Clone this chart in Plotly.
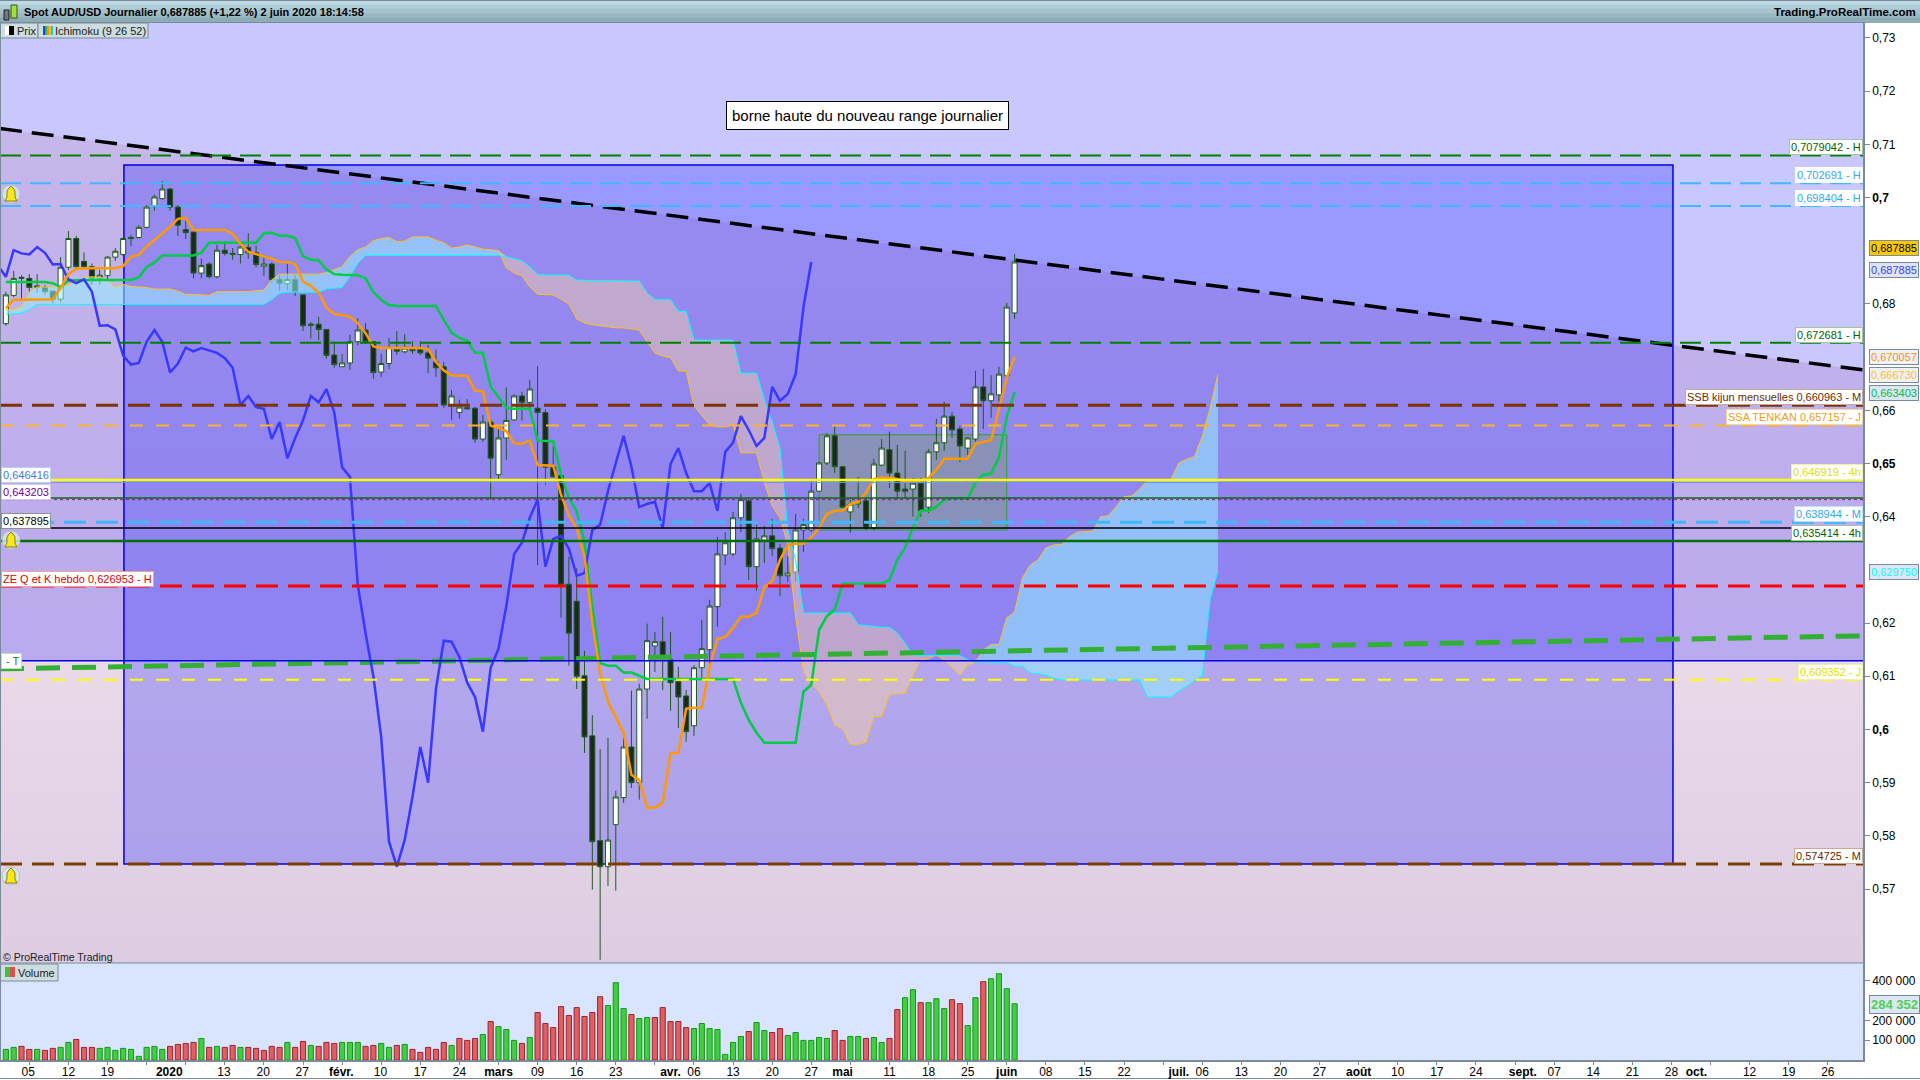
import plotly.graph_objects as go

# daily candles
open_p = [.6763,.6816,.6850,.6848,.6831,.6831,.6824,.6809,.6869,.6923,
 .6880,.6870,.6848,.6853,.6888,.6893,.6925,.6925,.6944,.6983,
 .6998,.7016,.6982,.6940,.6935,.6858,.6875,.6851,.6901,.6895,
 .6893,.6906,.6896,.6871,.6875,.6846,.6838,.6846,.6817,.6762,
 .6762,.6752,.6704,.6682,.6689,.6729,.6751,.6729,.6672,.6688,
 .6715,.6710,.6715,.6714,.6708,.6691,.6682,.6608,.6596,.6605,
 .6604,.6546,.6578,.6479,.6548,.6582,.6627,.6615,.6604,.6596,
 .6493,.6477,.6273,.6241,.6101,.5988,.5791,.5742,.5821,.5872,
 .5967,.5900,.6076,.6157,.6165,.6131,.6090,.6063,.6007,.6116,
 .6150,.6231,.6328,.6330,.6398,.6430,.6306,.6356,.6364,.6341,
 .6289,.6296,.6375,.6375,.6448,.6501,.6552,.6494,.6409,.6424,
 .6430,.6379,.6497,.6526,.6482,.6452,.6452,.6463,.6418,.6522,
 .6539,.6589,.6565,.6529,.6546,.6644,.6618,.6629,.6665,.6783]
close_p = [.6817,.6848,.6848,.6831,.6834,.6823,.6809,.6869,.6923,.6870,
 .6870,.6848,.6854,.6888,.6899,.6923,.6923,.6944,.6982,.7001,
 .7016,.6982,.6948,.6934,.6858,.6872,.6851,.6901,.6895,.6893,
 .6907,.6896,.6874,.6875,.6846,.6839,.6846,.6823,.6759,.6760,
 .6752,.6703,.6686,.6689,.6729,.6751,.6729,.6671,.6688,.6718,
 .6711,.6717,.6712,.6708,.6698,.6680,.6610,.6627,.6606,.6603,
 .6546,.6578,.6510,.6548,.6581,.6627,.6615,.6640,.6596,.6493,
 .6475,.6272,.6181,.6100,.5986,.5789,.5742,.5792,.5873,.5967,
 .5900,.6076,.6167,.6165,.6136,.6088,.6061,.5996,.6116,.6152,
 .6232,.6330,.6351,.6398,.6432,.6306,.6358,.6364,.6340,.6289,
 .6294,.6375,.6385,.6448,.6501,.6552,.6494,.6418,.6424,.6428,
 .6379,.6499,.6529,.6482,.6448,.6448,.6463,.6411,.6522,.6539,
 .6589,.6563,.6533,.6548,.6644,.6618,.6631,.6668,.6794,.687885]
high_p = [.6823,.6862,.6854,.6856,.6856,.6836,.6825,.6888,.6937,.6928,
 .6897,.6876,.6864,.6890,.6905,.6925,.6930,.6948,.6986,.7005,
 .7031,.7018,.6986,.6956,.6936,.6885,.6878,.6911,.6918,.6905,
 .6909,.6933,.6910,.6888,.6878,.6854,.6875,.6854,.6818,.6766,
 .6776,.6752,.6729,.6706,.6742,.6773,.6764,.6730,.6706,.6736,
 .6749,.6743,.6730,.6730,.6723,.6714,.6691,.6638,.6620,.6621,
 .6606,.6591,.6583,.6565,.6643,.6630,.6635,.6657,.6683,.6602,
 .6533,.6477,.6325,.6303,.6148,.6027,.5963,.5984,.5885,.5994,
 .6073,.6086,.6199,.6183,.6212,.6183,.6118,.6074,.6121,.6206,
 .6244,.6362,.6371,.6409,.6443,.6434,.6385,.6383,.6396,.6349,
 .6326,.6405,.6396,.6471,.6503,.6557,.6569,.6494,.6432,.6475,
 .6434,.6509,.6546,.6560,.6535,.6524,.6473,.6473,.6527,.6584,
 .6616,.6597,.6571,.6550,.6674,.6678,.6666,.6682,.6802,.6894]
low_p = [.6759,.6813,.6809,.6821,.6821,.6817,.6801,.6803,.6864,.6866,
 .6865,.6836,.6836,.6844,.6881,.6890,.6909,.6923,.6942,.6975,
 .6996,.6975,.6928,.6922,.6848,.6848,.6848,.6848,.6891,.6883,
 .6876,.6885,.6869,.6853,.6840,.6825,.6826,.6815,.6749,.6735,
 .6732,.6697,.6680,.6682,.6676,.6722,.6725,.6659,.6663,.6678,
 .6704,.6707,.6706,.6704,.6670,.6663,.6605,.6582,.6584,.6602,
 .6539,.6541,.6432,.6469,.6507,.6581,.6581,.6600,.6309,.6460,
 .6475,.6210,.6120,.6076,.5956,.5699,.5567,.5706,.5697,.5862,
 .5890,.5868,.6020,.6108,.6074,.6035,.6003,.5977,.5988,.6097,
 .6118,.6193,.6309,.6326,.6371,.6281,.6261,.6313,.6326,.6251,
 .6277,.6279,.6334,.6371,.6447,.6497,.6482,.6416,.6370,.6416,
 .6375,.6375,.6495,.6454,.6432,.6435,.6400,.6400,.6407,.6507,
 .6524,.6548,.6503,.6516,.6541,.6565,.6586,.6616,.6663,.6772]

# ichimoku lines
tenkan = [.6792,.6808,.6808,.6808,.6808,.6808,.6809,.6830,.6856,.6866,
 .6867,.6867,.6867,.6867,.6867,.6871,.6889,.6892,.6908,.6920,
 .6933,.6945,.6960,.6962,.6939,.6939,.6939,.6939,.6939,.6932,
 .6913,.6898,.6894,.6889,.6885,.6879,.6879,.6875,.6842,.6834,
 .6821,.6793,.6781,.6779,.6776,.6764,.6745,.6720,.6717,.6717,
 .6717,.6717,.6717,.6717,.6715,.6691,.6675,.6666,.6665,.6665,
 .6637,.6636,.6571,.6567,.6561,.6538,.6537,.6543,.6497,.6497,
 .6496,.6441,.6403,.6378,.6325,.6200,.6106,.6052,.6022,.5994,
 .5915,.5905,.5853,.5853,.5862,.5956,.5956,.6039,.6041,.6041,
 .6118,.6170,.6174,.6191,.6212,.6212,.6219,.6268,.6279,.6319,
 .6347,.6349,.6349,.6361,.6379,.6405,.6411,.6411,.6424,.6428,
 .6445,.6471,.6473,.6473,.6471,.6466,.6466,.6468,.6473,.6488,
 .6509,.6509,.6509,.6509,.6537,.6541,.6544,.6601,.6661,.670057]
kijun = [.6841,.6841,.6841,.6841,.6841,.6841,.6839,.6832,.6844,.6845,
 .6845,.6845,.6845,.6845,.6845,.6845,.6845,.6850,.6869,.6878,
 .6891,.6891,.6891,.6891,.6891,.6896,.6915,.6915,.6915,.6915,
 .6915,.6915,.6915,.6933,.6934,.6928,.6928,.6924,.6890,.6883,
 .6882,.6865,.6856,.6855,.6854,.6854,.6848,.6822,.6808,.6798,
 .6796,.6796,.6796,.6796,.6796,.6796,.6770,.6746,.6736,.6731,
 .6708,.6708,.6645,.6624,.6605,.6603,.6603,.6603,.6543,.6542,
 .6542,.6479,.6435,.6410,.6353,.6229,.6125,.6120,.6120,.6107,
 .6107,.6101,.6095,.6095,.6095,.6095,.6095,.6095,.6095,.6095,
 .6095,.6095,.6095,.6095,.6050,.6018,.5994,.5975,.5975,.5975,
 .5975,.5975,.6071,.6084,.6187,.6213,.6225,.6274,.6274,.6274,
 .6274,.6274,.6274,.6281,.6319,.6342,.6379,.6411,.6411,.6419,
 .6432,.6434,.6434,.6434,.6464,.6479,.6481,.6511,.6588,.663403]
# lagging line starts one bar left of the first candle
chikou = [.6872,.6851,.6901,.6895,.6893,.6907,.6896,.6874,.6875,.6846,
 .6839,.6846,.6823,.6759,.6760,.6752,.6703,.6686,.6689,.6729,
 .6751,.6729,.6671,.6688,.6718,.6711,.6717,.6712,.6708,.6698,
 .6680,.6610,.6627,.6606,.6603,.6546,.6578,.6510,.6548,.6581,
 .6627,.6615,.6640,.6596,.6493,.6475,.6272,.6181,.6100,.5986,
 .5789,.5742,.5792,.5873,.5967,.5900,.6076,.6167,.6165,.6136,
 .6088,.6061,.5996,.6116,.6152,.6232,.6330,.6351,.6398,.6432,
 .6306,.6358,.6364,.6340,.6289,.6294,.6375,.6385,.6448,.6501,
 .6552,.6494,.6418,.6424,.6428,.6379,.6499,.6529,.6482,.6448,
 .6448,.6463,.6411,.6522,.6539,.6589,.6563,.6533,.6548,.6644,
 .6618,.6631,.6668,.6794,.687885]
ssa = [.6789,.6789,.6796,.6823,.6832,.6832,.6832,.6834,.6836,.6842,
 .6850,.6851,.6850,.6845,.6832,.6837,.6833,.6832,.6831,.6828,
 .6828,.6828,.6824,.6818,.6818,.6817,.6816,.6823,.6823,.6823,
 .6823,.6823,.6825,.6826,.6845,.6856,.6856,.6856,.6856,.6856,
 .6856,.6859,.6864,.6870,.6889,.6902,.6907,.6919,.6923,.6925,
 .6917,.6918,.6926,.6926,.6926,.6920,.6915,.6905,.6907,.6911,
 .6907,.6903,.6902,.6900,.6868,.6858,.6853,.6832,.6818,.6817,
 .6817,.6809,.6800,.6772,.6764,.6761,.6759,.6756,.6755,.6755,
 .6753,.6751,.6729,.6708,.6702,.6699,.6674,.6674,.6608,.6590,
 .6573,.6569,.6569,.6573,.6520,.6520,.6520,.6464,.6420,.6398,
 .6347,.6212,.6109,.6086,.6071,.6046,.6009,.6001,.5972,.5972,
 .5976,.6024,.6024,.6066,.6067,.6068,.6102,.6131,.6133,.6140,
 .6131,.6116,.6102,.6121,.6127,.6149,.6160,.6160,.6210,.6221,
 .6285,.6309,.6319,.6341,.6347,.6348,.6362,.6371,.6372,.6373,
 .6400,.6402,.6419,.6438,.6439,.6452,.6469,.6470,.6470,.6470,
 .6501,.6508,.6513,.6551,.6604,.66673]
ssb = [.6781,.6781,.6783,.6789,.6799,.6799,.6799,.6799,.6799,.6799,
 .6799,.6799,.6799,.6799,.6799,.6799,.6799,.6799,.6799,.6799,
 .6799,.6799,.6799,.6799,.6799,.6799,.6799,.6799,.6799,.6799,
 .6799,.6799,.6799,.6799,.6808,.6820,.6822,.6822,.6822,.6822,
 .6822,.6828,.6829,.6831,.6851,.6876,.6891,.6891,.6891,.6891,
 .6891,.6891,.6891,.6891,.6891,.6891,.6891,.6891,.6891,.6891,
 .6891,.6891,.6891,.6891,.6889,.6885,.6881,.6870,.6856,.6854,
 .6854,.6854,.6854,.6845,.6844,.6844,.6844,.6844,.6844,.6844,
 .6844,.6843,.6821,.6808,.6808,.6808,.6786,.6786,.6732,.6732,
 .6732,.6732,.6732,.6732,.6670,.6670,.6670,.6620,.6579,.6529,
 .6375,.6319,.6219,.6219,.6219,.6219,.6219,.6219,.6219,.6197,
 .6195,.6193,.6192,.6192,.6182,.6162,.6140,.6139,.6139,.6139,
 .6139,.6139,.6139,.6131,.6127,.6127,.6127,.6127,.6126,.6119,
 .6119,.6106,.6105,.6102,.6096,.6093,.6093,.6093,.6093,.6093,
 .6093,.6093,.6093,.6093,.6093,.6093,.6061,.6061,.6061,.6061,
 .6072,.6082,.6091,.6101,.6244,.62975]

# volume, and whether the bar is drawn green
volume = [53700,63700,68800,53700,53700,48600,58700,63700,88900,104000,
 63700,63700,58700,63700,48600,58700,53700,18400,63700,68800,
 53700,68800,78800,83900,88900,109000,63700,68800,63700,73800,
 63700,63700,58700,48600,68800,63700,88900,63700,93900,73800,
 68800,88900,83900,88900,88900,88900,68800,73800,83900,63700,
 73800,78800,53700,38600,63700,53700,88900,73800,109000,99000,
 109000,129000,194500,169000,154000,99000,83900,114000,240000,184500,
 164000,270000,225000,265000,220000,240000,320000,275000,391000,260000,
 230000,210000,215000,215000,265000,194500,194500,164000,159000,184500,
 159000,154000,28500,88900,119000,144000,189500,149000,139000,159000,
 124000,139000,99000,99000,114000,109000,149000,99000,119000,119000,
 109000,114000,88900,109000,255000,315000,355500,290000,290000,310000,
 260000,305000,285000,174000,315000,396000,411000,436000,360500,284352]
vol_green = ("GGRRGRRGGR" "RRGGGGGGGG" "GRRRRGRGRR" "GRRRRRGRRG" "RRRGGGRRGG"
             "RGRRRRRGRR" "RGRGGGRGRR" "RRRRRRRGGG" "RGGRRRRRGG" "GGGGGRGGRR"
             "GGGGGGRRGG" "RGGRRGGRGG" "GRRGGRGGGG")

# horizontal levels: price, colour, width, dash
levels = [
    (0.7079042, "#008000", 2, "21px,9px"),
    (0.702691, "#40b8ff", 2, "21px,9px"),
    (0.698404, "#40b8ff", 2, "21px,9px"),
    (0.672681, "#008000", 2, "21px,9px"),
    (0.660963, "#7f3300", 3, "22px,10px"),
    (0.657157, "#ffb030", 2, "13px,13px"),
    (0.646416, "#7090ff", 1, "solid"),
    (0.646919, "#ffff00", 2.5, "solid"),
    (0.64353, "#007000", 1.5, "solid"),
    (0.643203, "#a000c0", 1, "3px,3px"),
    (0.638944, "#40b8ff", 3, "22px,10px"),
    (0.637895, "#000000", 1.5, "solid"),
    (0.635414, "#007000", 2.5, "solid"),
    (0.626953, "#ff0000", 3, "22px,10px"),
    (0.6129, "#0000e0", 1.5, "solid"),
    (0.609352, "#ffff00", 2, "13px,13px"),
    (0.574725, "#7f3c00", 3, "22px,10px"),
]
# labels sitting on the levels at the right edge of the pane
right_labels = [
    ("0,7079042 - H", 0.7079042, "#006400", "#a8c0a8"),
    ("0,702691 - H", 0.702691, "#30a8f0", "#ffffff"),
    ("0,698404 - H", 0.698404, "#30a8f0", "#ffffff"),
    ("0,672681 - H", 0.672681, "#006400", "#a8c0a8"),
    ("SSB kijun mensuelles 0,660963 - M", 0.660963, "#6b2a00", "#c8a898"),
    ("SSA TENKAN 0,657157 - J", 0.657157, "#e8a020", "#f0d8a0"),
    ("0,646919 - 4h", 0.646919, "#e0e000", "#f0f0a0"),
    ("0,638944 - M", 0.638944, "#30a8f0", "#c0e0ff"),
    ("0,635414 - 4h", 0.635414, "#006400", "#a8c0a8"),
    ("0,609352 - J", 0.609352, "#e0e000", "#f0f0a0"),
    ("0,574725 - M", 0.574725, "#6b2a00", "#c8a898"),
]
# badges in the price column: text, pixel row, text colour, fill
axis_badges = [
    ("0,687885", 248, "#000000", "#ffc800"),
    ("0,687885", 270, "#4040ff", "#dde6f4"),
    ("0,670057", 357, "#ff9000", "#eef2f8"),
    ("0,666730", 375, "#ffc020", "#eef2f8"),
    ("0,663403", 393, "#00c040", "#dde6f4"),
    ("0,629750", 572, "#00ffff", "#dde6f4"),
]
left_badges = [
    ("0,646416", 475, "#4878e8", "#b8d0f0"),
    ("0,643203", 492, "#7000a0", "#d8c8e8"),
    ("0,637895", 521, "#000000", "#909090"),
    ("ZE Q et K hebdo 0,626953 - H", 579, "#e00000", "#f0a0a0"),
    (" - T", 661, "#208020", "#c0e0c0"),
]

trend_x = [-0.75, 237.5]
trend_y = [0.71297, 0.6676]
green_trend_y = [0.6114, 0.6176]

price_ticks = [.57, .58, .59, .60, .61, .62, .64, .65, .66, .68, .70, .71, .72, .73]
price_text = ["0,57", "0,58", "0,59", "<b>0,6</b>", "0,61", "0,62", "0,64", "<b>0,65</b>",
              "0,66", "0,68", "<b>0,7</b>", "0,71", "0,72", "0,73"]
vol_ticks = [100000, 200000, 400000]
vol_text = ["100 000", "200 000", "400 000"]

x_labels = ["05", "12", "19", "<b>2020</b>", "13", "20", "27", "<b>févr.</b>", "10", "17", "24",
            "<b>mars</b>", "09", "16", "23", "<b>avr.</b>", "06", "13", "20", "27", "<b>mai</b>",
            "11", "18", "25", "<b>juin</b>", "08", "15", "22", "<b>juil.</b>", "06", "13", "20",
            "27", "<b>août</b>", "10", "17", "24", "<b>sept.</b>", "07", "14", "21", "28",
            "<b>oct.</b>", "12", "19", "26"]
x_label_pos = [2.85, 8, 13, 20.9, 27.9, 32.9, 37.9, 42.9, 47.9, 53, 58, 63, 68, 73, 78, 85, 88,
               93, 98, 103, 107, 113, 118, 123, 128, 133, 138, 143, 150, 153, 158, 163, 168,
               173, 178, 183, 188, 194, 198, 203, 208, 213, 216.2, 223, 228, 233]

W, H = 1920, 1080
PANE_R, PANE_T, PANE_B, VOL_B = 1863, 22, 963, 1060
FONT = "Liberation Sans"
AXIS_GREY = "#7a8a9a"


def px(x):
    return x / W


def py(y):
    return 1 - y / H


def mix(c1, c2, t):
    return "rgb(%d,%d,%d)" % tuple(round(a + (b - a) * t) for a, b in zip(c1, c2))


def paper_rect(x0, y0, x1, y1, fill, line=None, layer="below"):
    return dict(type="rect", xref="paper", yref="paper", x0=px(x0), x1=px(x1), y0=py(y0), y1=py(y1),
                fillcolor=fill, line=dict(color=line or fill, width=1 if line else 0), layer=layer)


def bell(cx, cy):
    pts = [(-6, 7), (-4, 3), (-4, -3), (-2, -6), (0, -8), (2, -6), (4, -3), (4, 3), (6, 7)]
    path = "M " + " L ".join("%.5f %.5f" % (px(cx + a), py(cy + b)) for a, b in pts) + " Z"
    return [
        dict(type="circle", xref="paper", yref="paper", x0=px(cx - 9), x1=px(cx + 9), y0=py(cy - 9),
             y1=py(cy + 9), fillcolor="rgba(215,235,240,0.8)", line=dict(color="#b0c8d0", width=1), layer="above"),
        dict(type="path", xref="paper", yref="paper", path=path, fillcolor="#f8e820",
             line=dict(color="#908000", width=1), layer="above"),
    ]


shapes = []
# pane backgrounds
for k in range(24):
    y0 = PANE_T + (661 - PANE_T) * k / 24
    y1 = PANE_T + (661 - PANE_T) * (k + 1) / 24
    shapes.append(paper_rect(0, y0, PANE_R, y1 + 1, mix((200, 184, 232), (186, 170, 238), k / 23)))
for k in range(14):
    y0 = 661 + (PANE_B - 661) * k / 14
    y1 = 661 + (PANE_B - 661) * (k + 1) / 14
    shapes.append(paper_rect(0, y0, PANE_R, y1 + 1, mix((233, 217, 233), (221, 205, 226), k / 13)))
shapes.append(paper_rect(0, PANE_B, PANE_R, VOL_B, "#d9e5fe"))
# lighter area above the long trend line
shapes.append(dict(type="path", xref="x", yref="y", layer="below", fillcolor="#c8c8ff", line=dict(width=0),
                   path="M %g %g L %g %g L %g 0.7335 L %g 0.7335 Z" % (trend_x[0], trend_y[0], trend_x[1], trend_y[1],
                                                                        trend_x[1], trend_x[0])))
# big range box and the smaller consolidation box
shapes.append(dict(type="rect", xref="x", yref="y", x0=15.1, x1=213.2, y0=0.574725, y1=0.7061, layer="below",
                   fillcolor="rgba(0,0,255,0.23)", line=dict(color="#0000e0", width=1.5)))
shapes.append(dict(type="rect", xref="x", yref="y", x0=104, x1=128, y0=0.6375, y1=0.6554, layer="below",
                   fillcolor="rgba(120,170,80,0.35)", line=dict(color="#30a030", width=1)))
# levels go over the candles
for price, color, width, dash in levels:
    shapes.append(dict(type="line", xref="paper", yref="y", x0=0, x1=px(PANE_R), y0=price, y1=price,
                       line=dict(color=color, width=width, dash=dash), layer="above"))
# title bar
for k in range(5):
    shapes.append(paper_rect(0, k * 4.4, W, (k + 1) * 4.4 + 1, mix((188, 218, 228), (140, 172, 182), k / 4)))
shapes.append(paper_rect(0, 0, W, 1, AXIS_GREY))
shapes.append(paper_rect(0, 22, PANE_R, 23, AXIS_GREY, layer="above"))
shapes.append(paper_rect(4, 10, 9, 20, "#707880", "#202020"))
shapes.append(paper_rect(11, 5, 17, 18, "#a0e040", "#405010"))
# legend chips
shapes.append(paper_rect(0, 23, 38, 38, "#cddde0", AXIS_GREY, layer="above"))
shapes.append(paper_rect(38, 23, 148, 38, "#cddde0", AXIS_GREY, layer="above"))
shapes.append(paper_rect(5, 26, 9, 35, "#ffffff", layer="above"))
shapes.append(paper_rect(9, 26, 14, 35, "#000000", layer="above"))
for k, c in enumerate(["#2040e0", "#30c040", "#ff9000", "#ffc020", "#00d0ff"]):
    shapes.append(paper_rect(43 + k * 2, 26, 45 + k * 2, 35, c, layer="above"))
shapes.append(paper_rect(0, 964, 58, 981, "#cddde0", AXIS_GREY, layer="above"))
shapes.append(paper_rect(5, 967, 10, 977, "#40c040", layer="above"))
shapes.append(paper_rect(10, 967, 15, 977, "#e05050", layer="above"))
# frame
shapes.append(paper_rect(0, PANE_B - 0.5, PANE_R, PANE_B + 0.5, AXIS_GREY, layer="above"))
shapes.append(paper_rect(0, 1078, W, 1079, AXIS_GREY))
shapes.append(paper_rect(0, 22, 1, VOL_B, AXIS_GREY, layer="above"))
for cy in (194, 540, 876):
    shapes += bell(11, cy)

annotations = []


def note(text, x, y, color="#000000", size=11, anchor="left", yanchor="middle", bg=None, border=None,
         yref="paper", pad=1):
    annotations.append(dict(text=text, x=px(x), y=y if yref == "y" else py(y), xref="paper", yref=yref,
                            xanchor=anchor, yanchor=yanchor, showarrow=False, align="left",
                            font=dict(family=FONT, size=size, color=color), bgcolor=bg, bordercolor=border,
                            borderwidth=1 if border else 0, borderpad=pad))


note("<b>Spot AUD/USD Journalier 0,687885 (+1,22 %) 2 juin 2020 18:14:58</b>", 23, 12)
note("<b>Trading.ProRealTime.com</b>", 1917, 12, anchor="right", size=11.5)
note("Prix", 16, 31, color="#202020")
note("Ichimoku (9 26 52)", 54, 31, color="#202020")
note("Volume", 17, 973, color="#202020")
note("© ProRealTime Trading", 2, 957, size=10.5, color="#202020")
note("borne haute du nouveau range journalier", 867, 115, size=15, anchor="center", bg="#ffffff", border="#000000", pad=5)
for text, level, color, border in right_labels:
    note(text, PANE_R, level, color=color, anchor="right", yanchor="bottom", bg="#ffffff", border=border, yref="y")
for text, row, color, fill in axis_badges:
    note(text, 1869, row, color=color, bg=fill, border=AXIS_GREY)
note("<b>284 352</b>", 1869, 1004, color="#50d050", size=13, bg="#dde6f4", border=AXIS_GREY)
for text, row, color, border in left_badges:
    note(text, 1, row, color=color, bg="#ffffff", border=border)

xs = list(range(len(close_p)))
cloud_x = list(range(len(ssa)))
top = [max(a, b) for a, b in zip(ssa, ssb)]

fig = go.Figure()
# cloud: blue where ssa is on top, pink where ssb is on top
fig.add_trace(go.Scatter(x=cloud_x, y=ssb, mode="lines", line=dict(width=0), showlegend=False))
fig.add_trace(go.Scatter(x=cloud_x, y=top, mode="lines", line=dict(width=0), fill="tonexty",
                         fillcolor="rgba(150,240,255,0.55)", showlegend=False))
fig.add_trace(go.Scatter(x=cloud_x, y=ssa, mode="lines", line=dict(width=0), showlegend=False))
fig.add_trace(go.Scatter(x=cloud_x, y=top, mode="lines", line=dict(width=0), fill="tonexty",
                         fillcolor="rgba(255,215,160,0.42)", showlegend=False))
fig.add_trace(go.Candlestick(x=xs, open=open_p, high=high_p, low=low_p, close=close_p, whiskerwidth=0,
                             increasing=dict(fillcolor="#ffffff", line=dict(color="#1f5a1f", width=1)),
                             decreasing=dict(fillcolor="#1c2a1c", line=dict(color="#1f5a1f", width=1)),
                             showlegend=False))
fig.add_trace(go.Scatter(x=cloud_x, y=ssa, mode="lines", line=dict(color="#ffc020", width=1), showlegend=False))
fig.add_trace(go.Scatter(x=cloud_x, y=ssb, mode="lines", line=dict(color="#00ffff", width=1), showlegend=False))
fig.add_trace(go.Scatter(x=trend_x, y=green_trend_y, mode="lines", showlegend=False,
                         line=dict(color="#33b033", width=5, dash="24px,12px")))
fig.add_trace(go.Scatter(x=xs, y=kijun, mode="lines", line=dict(color="#00cc44", width=2.5), showlegend=False))
fig.add_trace(go.Scatter(x=list(range(-1, len(chikou) - 1)), y=chikou, mode="lines",
                         line=dict(color="#3838ff", width=2.5), showlegend=False))
fig.add_trace(go.Scatter(x=xs, y=tenkan, mode="lines", line=dict(color="#ff9900", width=2.5), showlegend=False))
fig.add_trace(go.Scatter(x=trend_x, y=trend_y, mode="lines", showlegend=False,
                         line=dict(color="#000000", width=3.5, dash="22px,10px")))
fig.add_trace(go.Bar(x=xs, y=volume, yaxis="y2", width=0.66, showlegend=False,
                     marker=dict(color=["#44cc44" if c == "G" else "#e06060" for c in vol_green],
                                 line=dict(color=["#129912" if c == "G" else "#a02030" for c in vol_green], width=1))))

tick_font = dict(family=FONT, size=12, color="#000000")
fig.update_layout(
    width=W, height=H, autosize=False, margin=dict(l=0, r=0, t=0, b=0),
    paper_bgcolor="#ffffff", plot_bgcolor="rgba(0,0,0,0)", hovermode=False,
    boxgap=0.2, boxgroupgap=0.2,
    shapes=shapes, annotations=annotations,
    xaxis=dict(domain=[0, px(PANE_R)], range=[-0.75, 237.5], anchor="y2", rangeslider=dict(visible=False),
               tickmode="array", tickvals=x_label_pos, ticktext=x_labels, tickangle=0, ticks="", tickfont=tick_font,
               showgrid=False, zeroline=False, showline=True, linecolor=AXIS_GREY, linewidth=1.5,
               minor=dict(tick0=3, dtick=5, ticks="outside", ticklen=3, tickcolor=AXIS_GREY, showgrid=False)),
    yaxis=dict(domain=[py(PANE_B), py(PANE_T)], range=[0.5561, 0.733], side="right", anchor="x",
               tickmode="array", tickvals=price_ticks, ticktext=price_text, tickfont=tick_font, ticks="outside",
               ticklen=5, tickcolor=AXIS_GREY, showgrid=False, zeroline=False, showline=True,
               linecolor=AXIS_GREY, linewidth=1.5),
    yaxis2=dict(domain=[py(VOL_B), py(PANE_B)], range=[0, 490500], side="right", anchor="x",
                tickmode="array", tickvals=vol_ticks, ticktext=vol_text, tickfont=tick_font, ticks="outside",
                ticklen=5, tickcolor=AXIS_GREY, showgrid=False, zeroline=False, showline=True,
                linecolor=AXIS_GREY, linewidth=1.5),
)

# the page's default body margin would push the chart off by 8px
fig.write_html("out.html", config=dict(displayModeBar=False),
               post_script="document.body.style.margin='0';document.body.style.overflow='hidden';")
